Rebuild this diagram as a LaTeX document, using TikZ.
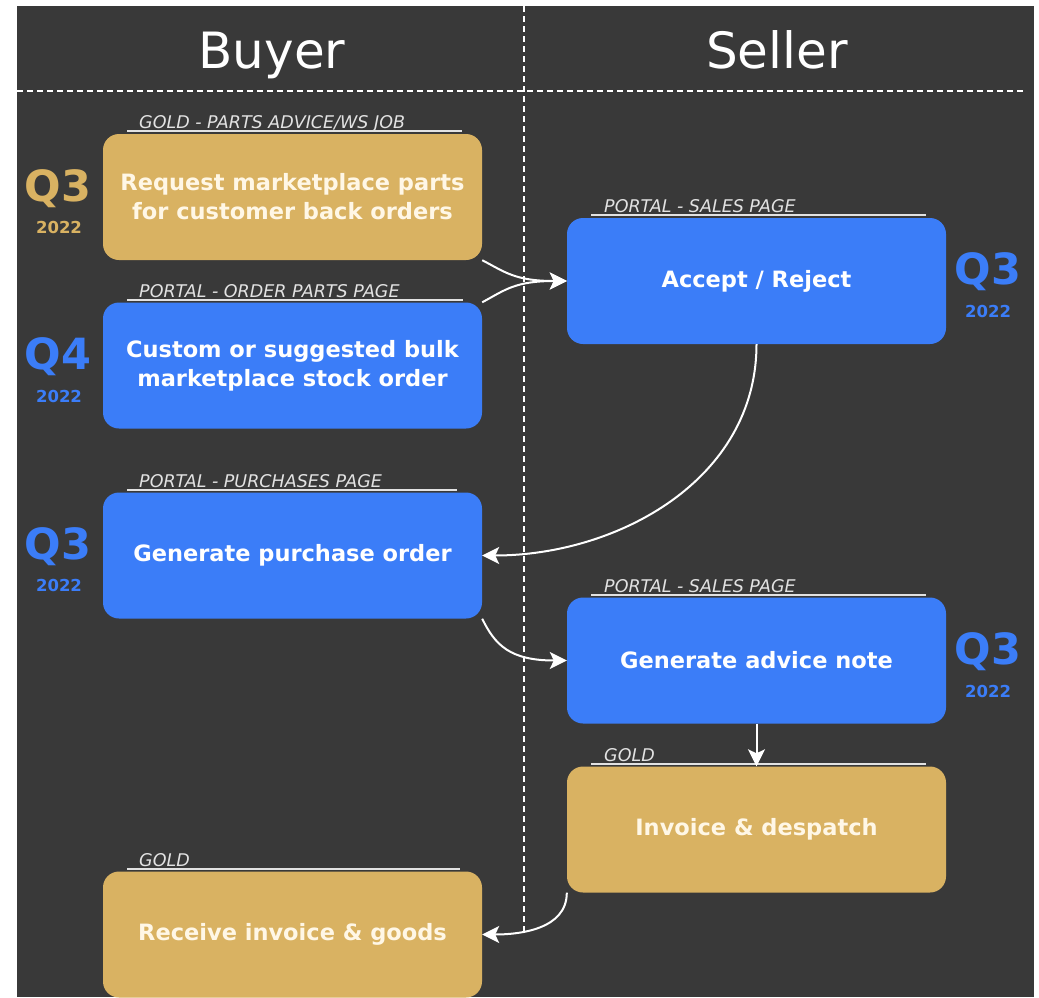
\documentclass[tikz,border=0pt]{standalone}
\usepackage{fontspec}
\setmainfont{DejaVu Sans}
\usetikzlibrary{arrows.meta}
\definecolor{bg}{HTML}{393939}
\definecolor{blu}{HTML}{3B7DF8}
\definecolor{gld}{HTML}{D9B262}
\definecolor{lbl}{HTML}{E2E2E2}
\definecolor{cream}{HTML}{FFF7E6}
\begin{document}
\begin{tikzpicture}[x=1pt,y=1pt,
  box/.style={rounded corners=16pt, minimum width=379pt, minimum height=126pt, inner sep=0pt, align=center, text=white, font=\fontsize{22.5}{29}\selectfont\bfseries},
  bluebox/.style={box, fill=blu},
  goldbox/.style={box, fill=gld, text=cream},
  tag/.style={font=\fontsize{17.5}{18}\selectfont\itshape, text=lbl, anchor=base west, inner sep=0pt},
  tagline/.style={draw=lbl, line width=1.8pt},
  qbig/.style={font=\fontsize{43}{43}\selectfont\bfseries, inner sep=0pt},
  qyear/.style={font=\fontsize{16.5}{16.5}\selectfont\bfseries, inner sep=0pt},
  lane/.style={font=\fontsize{50}{50}\selectfont, text=white, anchor=base, inner sep=0pt},
  flow/.style={draw=white, line width=2pt, -{Stealth[length=17pt,width=17pt,inset=4pt,fill=white]}},
  divider/.style={draw=white, line width=1.5pt, dash pattern=on 6pt off 4pt},
]
\useasboundingbox (0,0) rectangle (1039,-997);
\fill[bg] (17,-6) rectangle (1034,-997);

% lanes
\node[lane] (buyer) at (272,-68) {Buyer};
\node[lane] (seller) at (777,-68) {Seller};
\draw[divider] (17,-91) -- (1026,-91);
\draw[divider] (524,-6) -- (524,-935);

% boxes
\node[goldbox] (req) at (292.5,-197) {Request marketplace parts\\for customer back orders};
\node[bluebox] (cust) at (292.5,-365.5) {Custom or suggested bulk\\marketplace stock order};
\node[bluebox] (po) at (292.5,-555.5) {Generate purchase order};
\node[bluebox] (acc) at (756.5,-281) {Accept / Reject};
\node[bluebox] (adv) at (756.5,-660.5) {Generate advice note};
\node[goldbox] (inv) at (756.5,-829.5) {Invoice \& despatch};
\node[goldbox] (rec) at (292.5,-934.5) {Receive invoice \& goods};

% tags
\draw[tagline] (127,-131) -- (462,-131);
\node[tag] (treq) at (139,-128) {GOLD - PARTS ADVICE/WS JOB};
\draw[tagline] (127,-300) -- (463,-300);
\node[tag] (tcust) at (139,-297) {PORTAL - ORDER PARTS PAGE};
\draw[tagline] (127,-490) -- (457,-490);
\node[tag] (tpo) at (139,-487) {PORTAL - PURCHASES PAGE};
\draw[tagline] (591,-215) -- (926,-215);
\node[tag] (tacc) at (604,-212) {PORTAL - SALES PAGE};
\draw[tagline] (591,-595) -- (926,-595);
\node[tag] (tadv) at (604,-592) {PORTAL - SALES PAGE};
\draw[tagline] (591,-764) -- (926,-764);
\node[tag] (tinv) at (604,-761) {GOLD};
\draw[tagline] (127,-869) -- (460,-869);
\node[tag] (trec) at (139,-866) {GOLD};

% quarters
\node[qbig, text=gld] (q1) at (58,-188.5) {Q3};
\node[qyear, text=gld] (y1) at (59,-227) {2022};
\node[qbig, text=blu] (q2) at (58,-357) {Q4};
\node[qyear, text=blu] (y2) at (59,-396) {2022};
\node[qbig, text=blu] (q3) at (58,-547) {Q3};
\node[qyear, text=blu] (y3) at (59,-585) {2022};
\node[qbig, text=blu] (q4) at (988,-272) {Q3};
\node[qyear, text=blu] (y4) at (988,-311) {2022};
\node[qbig, text=blu] (q5) at (988,-652) {Q3};
\node[qyear, text=blu] (y5) at (988,-691) {2022};

% flows
\draw[flow] (req.south east) .. controls (505,-272) and (515,-281) .. (acc.west);
\draw[flow] (cust.north east) .. controls (505,-290) and (515,-281) .. (acc.west);
\draw[flow] (acc.south) to[out=-90,in=0] (po.east);
\draw[flow] (po.south east) .. controls (495,-645) and (510,-660.5) .. (adv.west);
\draw[flow] (adv.south) -- (inv.north);
\draw[flow] (inv.south west) to[out=-90,in=0] (rec.east);
\end{tikzpicture}
\end{document}
